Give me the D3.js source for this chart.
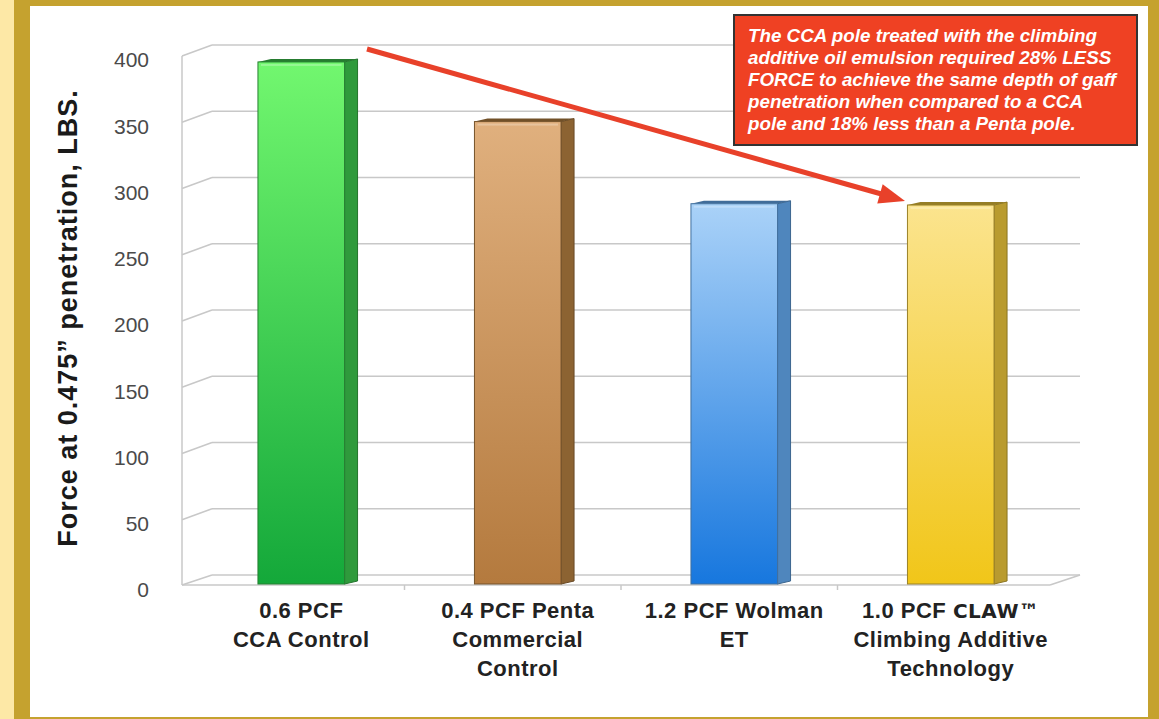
<!DOCTYPE html>
<html lang="en">
<head>
<meta charset="utf-8">
<title>Force at gaff penetration</title>
<script src="https://cdn.jsdelivr.net/npm/d3@7/dist/d3.min.js"></script>
<style>
  body { margin: 0; background: #fde8a6; }
  text { font-family: "Liberation Sans", Arial, sans-serif; }
</style>
</head>
<body>
<div id="chart"></div>
<script>
// data
var categories = ["0.6 PCF CCA Control", "0.4 PCF Penta Commercial Control", "1.2 PCF Wolman ET", "1.0 PCF CLAW Climbing Additive Technology"];
var labelLines = [["0.6 PCF", "CCA Control"], ["0.4 PCF Penta", "Commercial", "Control"], ["1.2 PCF Wolman", "ET"], ["1.0 PCF ", "Climbing Additive", "Technology"]];
var values = [394, 349, 287, 286];
var tickValues = [0, 50, 100, 150, 200, 250, 300, 350, 400];
var noteLines = [
  "The CCA pole treated with the climbing",
  "additive oil emulsion required 28% LESS",
  "FORCE to achieve the same depth of gaff",
  "penetration when compared to a CCA",
  "pole and 18% less than a Penta pole."
];

// colours: [front top, front bottom, side]
var barColors = [
  ["#72f76f", "#14a83a", "#2f9a3c"],
  ["#e0b07e", "#b47a3e", "#8c6332"],
  ["#aad2f8", "#1777de", "#4f86bd"],
  ["#fbe48e", "#f1c619", "#b99b2f"]
];

var w = 1159, h = 719;
var svg = d3.select("#chart").append("svg")
  .attr("width", w).attr("height", h);

// frame
svg.append("rect").attr("x", 14).attr("y", 0).attr("width", w - 14).attr("height", h).attr("fill", "#c5a22f");
svg.append("rect").attr("x", 30).attr("y", 6).attr("width", 1118).attr("height", 711).attr("fill", "#ffffff");

var defs = svg.append("defs");
barColors.forEach(function(c, i) {
  var g = defs.append("linearGradient").attr("id", "grad" + i)
    .attr("x1", 0).attr("y1", 0).attr("x2", 0).attr("y2", 1);
  g.append("stop").attr("offset", "0%").attr("stop-color", c[0]);
  g.append("stop").attr("offset", "100%").attr("stop-color", c[1]);
});

// scales
var y = d3.scaleLinear().domain([0, 400]).range([584, 54]);
var x = d3.scaleBand().domain(categories).range([193, 1059]).padding(0);
var barW = x.bandwidth() * 0.4;
var depth = 13, lift = 3, backShift = 9;
var axisX = 182, wallX = 212, rightX = 1080;

// gridlines (back wall + slanted left wall)
var grid = svg.append("g").attr("stroke", "#c8c8c8").attr("fill", "none").attr("stroke-width", 1.5);
tickValues.forEach(function(v) {
  if (v === 0) return;
  grid.append("line").attr("x1", wallX).attr("x2", rightX)
    .attr("y1", y(v) - backShift).attr("y2", y(v) - backShift);
  grid.append("line").attr("x1", axisX).attr("x2", wallX)
    .attr("y1", y(v) + 2).attr("y2", y(v) - backShift);
});
// left axis line and floor
grid.append("line").attr("x1", axisX).attr("x2", axisX).attr("y1", y(400) + 2).attr("y2", y(0) + 1);
grid.append("line").attr("x1", axisX).attr("x2", rightX - 30).attr("y1", y(0) + 1).attr("y2", y(0) + 1);
grid.append("line").attr("x1", wallX).attr("x2", rightX).attr("y1", y(0) - backShift).attr("y2", y(0) - backShift);
grid.append("line").attr("x1", rightX - 30).attr("x2", rightX).attr("y1", y(0) + 1).attr("y2", y(0) - backShift);
grid.append("line").attr("x1", axisX).attr("x2", wallX).attr("y1", y(0) + 1).attr("y2", y(0) - backShift);
categories.forEach(function(c, i) {
  if (i === 0) return;
  grid.append("line").attr("x1", x(c) - 5).attr("x2", x(c) - 5).attr("y1", y(0) + 1).attr("y2", y(0) + 6);
});

// tick labels
svg.append("g").selectAll("text").data(tickValues).enter().append("text")
  .attr("x", 149).attr("y", function(d) { return y(d) + 6; })
  .attr("dy", "0.35em")
  .attr("text-anchor", "end")
  .attr("font-size", "21px")
  .attr("fill", "#4a4a4a")
  .text(function(d) { return d; });

// y axis title
svg.append("text")
  .attr("transform", "translate(77,318) rotate(-90)")
  .attr("text-anchor", "middle")
  .attr("font-size", "27px")
  .attr("font-weight", "bold")
  .attr("letter-spacing", "1px")
  .attr("fill", "#1a1a1a")
  .text("Force at 0.475\u201d penetration, LBS.");

// bars
var bars = svg.append("g").selectAll("g").data(values).enter().append("g");
bars.each(function(d, i) {
  var g = d3.select(this);
  var x0 = x(categories[i]) + (x.bandwidth() - barW) / 2;
  var x1 = x0 + barW;
  var top = y(d), bot = y(0);
  // side face
  g.append("polygon")
    .attr("points", [[x1, top], [x1 + depth, top - lift], [x1 + depth, bot - lift], [x1, bot]].join(" "))
    .attr("fill", barColors[i][2])
    .attr("stroke", d3.color(barColors[i][2]).darker(0.8))
    .attr("stroke-width", 1);
  // top face
  g.append("polygon")
    .attr("points", [[x0, top], [x0 + depth, top - lift], [x1 + depth, top - lift], [x1, top]].join(" "))
    .attr("fill", d3.color(barColors[i][2]).darker(0.6));
  // front face
  g.append("rect")
    .attr("x", x0).attr("y", top)
    .attr("width", barW).attr("height", bot - top)
    .attr("fill", "url(#grad" + i + ")")
    .attr("stroke", d3.color(barColors[i][2]).darker(0.5))
    .attr("stroke-width", 1);
  g.append("rect")
    .attr("x", x0 + 3).attr("y", top + 2)
    .attr("width", barW - 6).attr("height", 2)
    .attr("fill", "#ffffff").attr("opacity", 0.25);
});

// category labels
var labels = svg.append("g").selectAll("text").data(labelLines).enter().append("text")
  .attr("text-anchor", "middle")
  .attr("font-size", "22px")
  .attr("font-weight", "bold")
  .attr("letter-spacing", "0.5px")
  .attr("fill", "#222")
  .attr("x", function(d, i) { return x(categories[i]) + x.bandwidth() / 2; })
  .attr("y", 618);
labels.each(function(lines, i) {
  var t = d3.select(this);
  var cx = x(categories[i]) + x.bandwidth() / 2;
  lines.forEach(function(line, j) {
    t.append("tspan").attr("x", cx).attr("dy", j === 0 ? 0 : 29).text(line);
    if (i === 3 && j === 0) {
      t.append("tspan")
        .attr("font-family", "'DejaVu Sans', sans-serif")
        .attr("font-weight", "900")
        .attr("font-size", "20px")
        .text("CLAW\u2122");
    }
  });
});

// arrow
svg.append("line")
  .attr("x1", 367).attr("y1", 49).attr("x2", 885).attr("y2", 195)
  .attr("stroke", "#e8412a").attr("stroke-width", 5);
var ang = Math.atan2(200 - 49, 905 - 367);
var tip = [905, 201];
var back = 26, half = 10;
var bx = tip[0] - back * Math.cos(ang), by = tip[1] - back * Math.sin(ang);
svg.append("polygon")
  .attr("points", [
    tip,
    [bx - half * Math.sin(ang), by + half * Math.cos(ang)],
    [bx + half * Math.sin(ang), by - half * Math.cos(ang)]
  ].join(" "))
  .attr("fill", "#e8412a");

// note box
svg.append("rect")
  .attr("x", 734).attr("y", 15).attr("width", 403).attr("height", 130)
  .attr("fill", "#ef4123")
  .attr("stroke", "#333").attr("stroke-width", 2);
svg.append("g").selectAll("text").data(noteLines).enter().append("text")
  .attr("x", 748)
  .attr("y", function(d, i) { return 42 + i * 22; })
  .attr("font-size", "18.8px")
  .attr("font-weight", "bold")
  .attr("font-style", "italic")
  .attr("fill", "#ffffff")
  .text(function(d) { return d; });
</script>
</body>
</html>
